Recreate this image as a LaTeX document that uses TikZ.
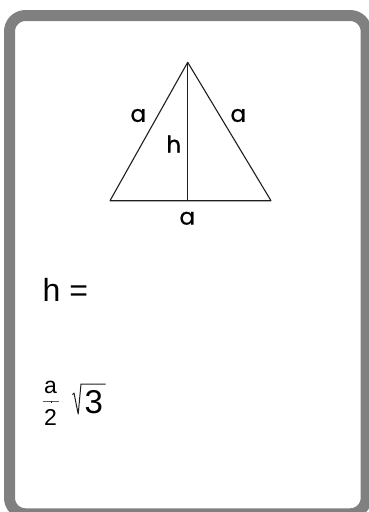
\documentclass[tikz,border=0pt]{standalone}
\usepackage{fontspec}
\setmainfont{Liberation Sans}
\newfontfamily\schoolfont[AutoFakeBold=0.6]{Poppins}
\usepackage{tikz}
\usetikzlibrary{calc,positioning}
\definecolor{framegray}{HTML}{808080}
\definecolor{black90}{HTML}{1E1E1E}
\definecolor{black70}{HTML}{5C5C5C}

\begin{document}
\begin{tikzpicture}[x=1pt, y=-1pt, line join=round]
    \useasboundingbox (0,0) rectangle (368,512);

    % Card frame
    \draw[framegray, line width=11pt, rounded corners=16pt] (9.5,15.5) rectangle (366.2,513.8);

    % Triangle with its height
    \coordinate (A) at (110,200.7);
    \coordinate (B) at (271,200.7);
    \coordinate (C) at (187.7,62.3);
    \coordinate (F) at (187.7,200.7);
    \draw[line width=1.1pt, black90] (A) -- (B) -- (C) -- cycle;
    \draw[line width=0.8pt, black90] (C) -- (F);

    % Triangle labels
    \node[font=\schoolfont\bfseries\fontsize{23}{25}\selectfont, inner sep=0pt] (sideL) at (138.3,115.5) {a};
    \node[font=\schoolfont\bfseries\fontsize{23}{25}\selectfont, inner sep=0pt] (sideR) at (238.3,115.5) {a};
    \node[font=\schoolfont\bfseries\fontsize{23}{25}\selectfont, inner sep=0pt] (height) at (173.8,144) {h};
    \node[font=\schoolfont\bfseries\fontsize{23}{25}\selectfont, inner sep=0pt] (base) at (187.3,218.3) {a};

    % Formula
    \node[font=\fontsize{32}{36}\selectfont, anchor=base west, inner sep=0pt] (lhs) at (42.5,301.7) {h =};
    \node[font=\fontsize{23}{25}\selectfont, anchor=base, inner sep=0pt] (num) at (50.5,393.5) {a};
    \node[font=\fontsize{23}{25}\selectfont, anchor=base, inner sep=0pt] (den) at (50.5,425) {2};
    \draw[line width=0.8pt, black70] (43,401.5) -- (59,401.5);
    \draw[line width=0.8pt, black90] (51,400.5) -- (51,403);

    % Root
    \draw[line width=1pt, black90] (72.5,394.5) -- (74,393) -- (78.2,414) -- (81,384) -- (105.5,384);
    \node[font=\fontsize{33}{36}\selectfont, anchor=base west, inner sep=0pt] (three) at (84.5,413.5) {3};

\end{tikzpicture}
\end{document}
